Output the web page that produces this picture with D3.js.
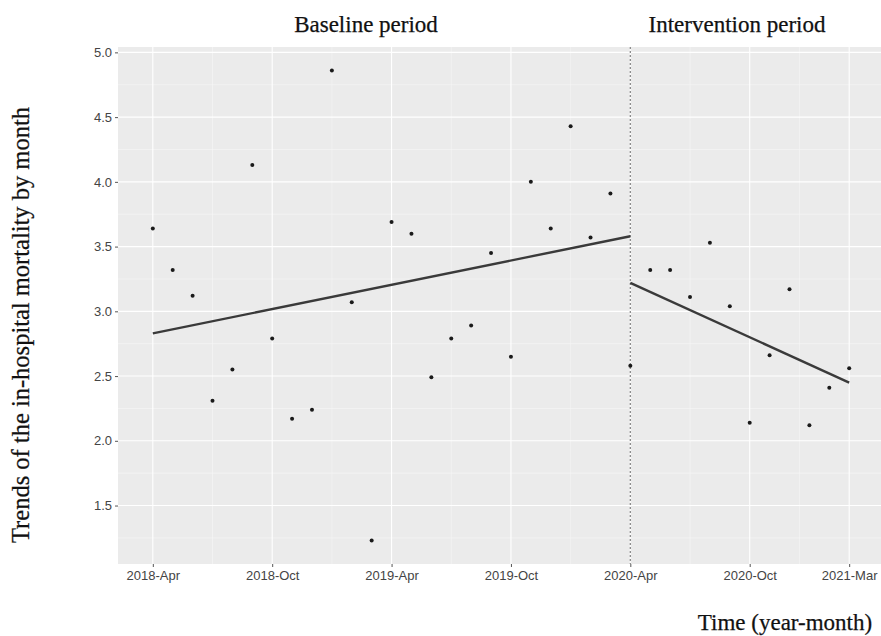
<!DOCTYPE html>
<html>
<head>
<meta charset="utf-8">
<script src="https://cdn.jsdelivr.net/npm/d3@7"></script>
<style>
  html, body { margin: 0; padding: 0; background: #ffffff; }
  svg { display: block; }
</style>
</head>
<body>
<svg id="chart" width="881" height="636"></svg>
<script>
// Monthly in-hospital mortality, 2018-Apr .. 2021-Mar (month index 0..35)
const monthIndex = d3.range(36);
const mortality = [
  3.64, 3.32, 3.12, 2.31, 2.55, 4.13, 2.79, 2.17, 2.24, 4.86, 3.07, 1.23,
  3.69, 3.60, 2.49, 2.79, 2.89, 3.45, 2.65, 4.00, 3.64, 4.43, 3.57, 3.91,
  2.58, 3.32, 3.32, 3.11, 3.53, 3.04, 2.14, 2.66, 3.17, 2.12, 2.41, 2.56
];

// Fitted segment end points (month index, value)
const baselineTrendMonths = [0, 24];
const baselineTrendValues = [2.83, 3.58];
const interventionTrendMonths = [24, 35];
const interventionTrendValues = [3.22, 2.45];

// Start of the intervention period
const interventionStart = 24;

// Axis breaks
const xTickMonths = [0, 6, 12, 18, 24, 30, 35];
const xTickLabels = ["2018-Apr", "2018-Oct", "2019-Apr", "2019-Oct", "2020-Apr", "2020-Oct", "2021-Mar"];
const yTicks = [1.5, 2.0, 2.5, 3.0, 3.5, 4.0, 4.5, 5.0];

const svg = d3.select("#chart");

const panel = { left: 118, right: 884, top: 47, bottom: 564 };

// ggplot-style 5% expansion of the data range
const xPad = (d3.max(monthIndex) - d3.min(monthIndex)) * 0.05;
const x = d3.scaleLinear()
  .domain([d3.min(monthIndex) - xPad, d3.max(monthIndex) + xPad])
  .range([panel.left, panel.right]);
const yExt = d3.extent(mortality);
const yPad = (yExt[1] - yExt[0]) * 0.05;
const y = d3.scaleLinear()
  .domain([yExt[0] - yPad, yExt[1] + yPad])
  .range([panel.bottom, panel.top]);

// Panel background
svg.append("rect")
  .attr("x", panel.left).attr("y", panel.top)
  .attr("width", panel.right - panel.left)
  .attr("height", panel.bottom - panel.top)
  .attr("fill", "#ebebeb");

// Minor grid: midpoints between major breaks
const xMinor = d3.pairs(xTickMonths).map(([a, b]) => (a + b) / 2);
const yMinor = d3.pairs(yTicks).map(([a, b]) => (a + b) / 2).concat([yTicks[0] - 0.25]);

const grid = svg.append("g");
grid.selectAll(".ymin").data(yMinor).join("line")
  .attr("x1", panel.left).attr("x2", panel.right)
  .attr("y1", d => y(d)).attr("y2", d => y(d))
  .attr("stroke", "#f7f7f7").attr("stroke-width", 0.6);
grid.selectAll(".xmin").data(xMinor).join("line")
  .attr("y1", panel.top).attr("y2", panel.bottom)
  .attr("x1", d => x(d)).attr("x2", d => x(d))
  .attr("stroke", "#f7f7f7").attr("stroke-width", 0.6);
grid.selectAll(".ymaj").data(yTicks).join("line")
  .attr("x1", panel.left).attr("x2", panel.right)
  .attr("y1", d => y(d)).attr("y2", d => y(d))
  .attr("stroke", "#ffffff").attr("stroke-width", 1.1);
grid.selectAll(".xmaj").data(xTickMonths).join("line")
  .attr("y1", panel.top).attr("y2", panel.bottom)
  .attr("x1", d => x(d)).attr("x2", d => x(d))
  .attr("stroke", "#ffffff").attr("stroke-width", 1.1);

// Axes
const xAxis = d3.axisBottom(x)
  .tickValues(xTickMonths)
  .tickFormat((d, i) => xTickLabels[i])
  .tickSizeInner(3).tickSizeOuter(0).tickPadding(4);
const yAxis = d3.axisLeft(y)
  .tickValues(yTicks)
  .tickFormat(d3.format(".1f"))
  .tickSizeInner(3).tickSizeOuter(0).tickPadding(3);

const gx = svg.append("g").attr("transform", `translate(0,${panel.bottom})`).call(xAxis);
const gy = svg.append("g").attr("transform", `translate(${panel.left},0)`).call(yAxis);
[gx, gy].forEach(g => {
  g.select(".domain").remove();
  g.selectAll(".tick line").attr("stroke", "#555555").attr("stroke-width", 1);
  g.selectAll(".tick text")
    .attr("fill", "#444444")
    .style("font-family", "'Liberation Sans', Arial, sans-serif")
    .style("font-size", "13px");
});

// Intervention start marker
svg.append("line")
  .attr("x1", x(interventionStart)).attr("x2", x(interventionStart))
  .attr("y1", panel.top).attr("y2", panel.bottom)
  .attr("stroke", "#8c8c8c").attr("stroke-width", 1.3)
  .attr("stroke-dasharray", "2,2");

// Fitted trend segments
const line = d3.line().x(d => x(d[0])).y(d => y(d[1]));
const trends = [
  d3.zip(baselineTrendMonths, baselineTrendValues),
  d3.zip(interventionTrendMonths, interventionTrendValues)
];
svg.selectAll(".trend").data(trends).join("path")
  .attr("class", "trend")
  .attr("d", line)
  .attr("fill", "none")
  .attr("stroke", "#3a3a3a")
  .attr("stroke-width", 2.4);

// Observed monthly points
svg.selectAll(".pt").data(d3.zip(monthIndex, mortality)).join("circle")
  .attr("class", "pt")
  .attr("cx", d => x(d[0])).attr("cy", d => y(d[1]))
  .attr("r", 2)
  .attr("fill", "#1a1a1a");

// Titles
const serif = "'Liberation Serif', 'Times New Roman', serif";
function title(sel, size) {
  return sel.style("font-family", serif).style("font-size", size)
    .attr("fill", "#111111").attr("stroke", "#111111").attr("stroke-width", 0.25);
}
title(svg.append("text"), "23px")
  .attr("x", 366).attr("y", 32)
  .attr("text-anchor", "middle")
  .text("Baseline period");
title(svg.append("text"), "23px")
  .attr("x", 737).attr("y", 32)
  .attr("text-anchor", "middle")
  .text("Intervention period");
title(svg.append("text"), "24.5px")
  .attr("transform", "translate(29,325) rotate(-90)")
  .attr("text-anchor", "middle")
  .text("Trends of the in-hospital mortality by month");
title(svg.append("text"), "23px")
  .attr("x", 785).attr("y", 630)
  .attr("text-anchor", "middle")
  .text("Time (year-month)");
</script>
</body>
</html>
